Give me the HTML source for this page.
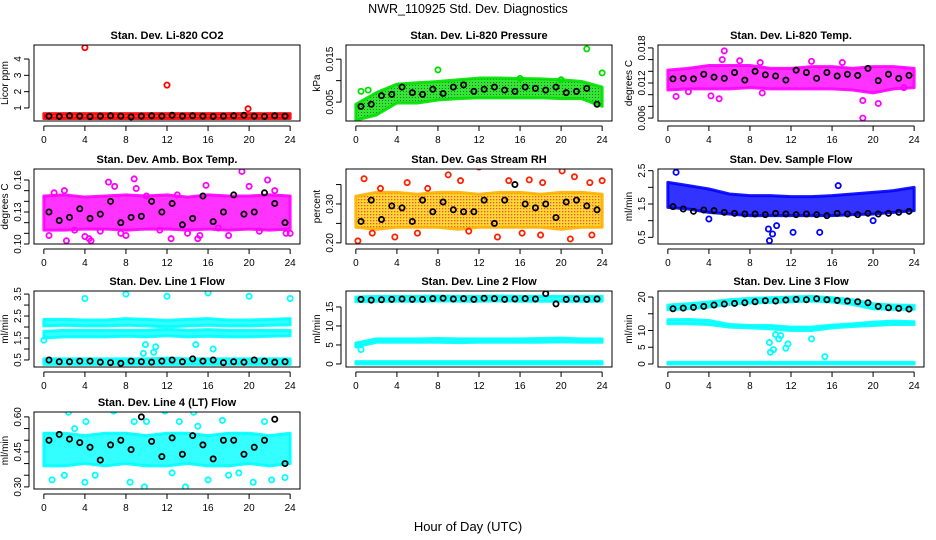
<!DOCTYPE html>
<html><head><meta charset="utf-8">
<style>
html,body{margin:0;padding:0;background:#fff;}
svg{display:block;font-family:"Liberation Sans",sans-serif;}
</style></head>
<body>
<svg id="chart" width="936" height="540" viewBox="0 0 936 540" xmlns="http://www.w3.org/2000/svg">
<defs>
<pattern id="rhPat" width="3" height="3" patternUnits="userSpaceOnUse">
<rect width="3" height="3" fill="#ffd000"/><rect x="1" y="1" width="1.3" height="1.3" fill="#ff2000"/>
</pattern>
<pattern id="grPat" width="3" height="3" patternUnits="userSpaceOnUse">
<rect width="3" height="3" fill="#00e000"/><rect x="1" y="1" width="1" height="1" fill="#004400"/>
</pattern>
</defs>
<text x="468" y="13" text-anchor="middle" font-size="12.5">NWR_110925  Std. Dev. Diagnostics</text>
<text x="468" y="531" text-anchor="middle" font-size="13">Hour of Day (UTC)</text>
</svg>
<script>
const hoursTicks = [0,4,8,12,16,20,24];
const bandHours = [0,2,4,6,8,10,12,14,16,18,20,22,24];
const blackHours = [0.5,1.5,2.5,3.5,4.5,5.5,6.5,7.5,8.5,9.5,10.5,11.5,12.5,13.5,14.5,15.5,16.5,17.5,18.5,19.5,20.5,21.5,22.5,23.5];

// CO2
const co2BandLow = [0.35,0.35,0.35,0.35,0.35,0.35,0.35,0.35,0.35,0.35,0.35,0.35,0.35];
const co2BandHigh = [0.65,0.65,0.65,0.65,0.65,0.65,0.65,0.65,0.65,0.65,0.65,0.65,0.65];
const co2OutX = [4,12,19.9];
const co2OutY = [4.7,2.4,0.95];
const co2Black = [0.5,0.48,0.52,0.5,0.47,0.5,0.52,0.5,0.45,0.5,0.52,0.5,0.55,0.5,0.52,0.5,0.48,0.5,0.52,0.55,0.5,0.48,0.52,0.5];
// Pressure
const presBandLow = [0.0008,0.002,0.0048,0.0048,0.0055,0.0058,0.006,0.006,0.006,0.006,0.0058,0.0058,0.004];
const presBandHigh = [0.0045,0.0072,0.0092,0.0095,0.0098,0.0102,0.0106,0.0106,0.0105,0.0104,0.0102,0.0098,0.0085];
const presOutX = [0.5,1.2,8,16,20,22.5,24];
const presOutY = [0.0075,0.0078,0.0125,0.0105,0.0102,0.0174,0.0118];
const presBlack = [0.004,0.0045,0.0065,0.0068,0.0085,0.0072,0.0068,0.008,0.007,0.0085,0.009,0.0075,0.008,0.0085,0.0078,0.0075,0.0085,0.0082,0.0078,0.0085,0.0072,0.0075,0.0082,0.0045];
// Li-820 Temp
const tempBandLow = [0.0108,0.011,0.011,0.011,0.0112,0.011,0.011,0.011,0.011,0.0108,0.0103,0.011,0.0112];
const tempBandHigh = [0.0142,0.0145,0.015,0.015,0.015,0.0145,0.0145,0.0148,0.0148,0.0145,0.0148,0.0148,0.0145];
const tempOutX = [0.8,5.5,5.3,4.2,5,7,9,9.2,19,19,20.5,23,14,2,17];
const tempOutY = [0.0097,0.0175,0.016,0.0098,0.0093,0.0158,0.0155,0.0103,0.006,0.009,0.0085,0.0112,0.0157,0.0105,0.0155];
const tempBlack = [0.0127,0.0128,0.0127,0.0135,0.013,0.0128,0.0138,0.0125,0.014,0.0134,0.0132,0.0125,0.0142,0.0138,0.0128,0.0138,0.0132,0.0135,0.0133,0.0145,0.0124,0.0135,0.0128,0.0133];
// Amb box temp
const ambBandLow = [0.113,0.113,0.114,0.114,0.113,0.114,0.114,0.113,0.114,0.113,0.114,0.113,0.114];
const ambBandHigh = [0.145,0.146,0.144,0.145,0.146,0.145,0.146,0.144,0.146,0.145,0.145,0.146,0.145];
const ambOutX = [0.5,2.2,4,4.6,4.4,6.3,6.9,8.8,9,11.3,12.4,15,15.2,15.8,19.3,20,21.8,23.6,24,1,3,7.5,13,17,18,21,10,2,14,22.5,5.5,8];
const ambOutY = [0.108,0.103,0.107,0.103,0.105,0.158,0.154,0.161,0.152,0.113,0.105,0.105,0.108,0.155,0.168,0.154,0.16,0.11,0.11,0.148,0.113,0.11,0.146,0.115,0.108,0.112,0.145,0.15,0.11,0.15,0.112,0.108];
const ambBlack = [0.13,0.122,0.125,0.133,0.124,0.128,0.14,0.12,0.125,0.126,0.14,0.13,0.138,0.118,0.124,0.145,0.121,0.13,0.146,0.128,0.13,0.148,0.138,0.12];
// RH
const rhBandLow = [0.24,0.235,0.24,0.24,0.24,0.235,0.24,0.24,0.24,0.24,0.235,0.24,0.24];
const rhBandHigh = [0.32,0.33,0.33,0.325,0.33,0.33,0.325,0.33,0.33,0.325,0.33,0.33,0.325];
const rhOutX = [0.2,0.8,1.6,3.8,9,10.2,12,14.9,13.8,16.2,16.9,18,18.2,20.1,20.9,21.3,22.8,23,24,5,7,11,6,2.4];
const rhOutY = [0.205,0.365,0.225,0.215,0.375,0.36,0.395,0.36,0.215,0.225,0.362,0.22,0.355,0.385,0.21,0.37,0.355,0.22,0.36,0.355,0.34,0.23,0.225,0.34];
const rhBlack = [0.255,0.31,0.26,0.295,0.29,0.255,0.31,0.28,0.305,0.285,0.28,0.28,0.31,0.25,0.31,0.35,0.3,0.29,0.3,0.265,0.305,0.31,0.295,0.285];
// Sample flow
const sfBandLow = [1.4,1.35,1.25,1.2,1.15,1.15,1.15,1.15,1.15,1.18,1.2,1.25,1.3];
const sfBandHigh = [2.15,2.05,1.95,1.8,1.75,1.75,1.72,1.72,1.75,1.8,1.85,1.9,2.0];
const sfOutX = [0.8,9.8,9.9,10.2,10.6,12.2,14.8,16.6,4,20];
const sfOutY = [2.45,0.75,0.4,0.6,0.85,0.65,0.65,2.05,1.05,1.0];
const sfBlack = [1.42,1.35,1.28,1.32,1.3,1.25,1.22,1.2,1.2,1.18,1.22,1.2,1.18,1.2,1.18,1.15,1.22,1.2,1.18,1.22,1.2,1.22,1.25,1.28];
// Line 1
const l1BandALow = [2.05,2.08,2.05,2.05,2.08,2.05,2.0,2.05,2.08,2.05,2.05,2.08,2.1];
const l1BandAHigh = [2.35,2.35,2.32,2.32,2.38,2.35,2.3,2.35,2.38,2.32,2.32,2.35,2.38];
const l1BandBLow = [1.5,1.55,1.55,1.55,1.58,1.55,1.6,1.55,1.58,1.55,1.55,1.58,1.6];
const l1BandBHigh = [1.8,1.85,1.85,1.85,1.85,1.85,1.9,1.85,1.88,1.85,1.85,1.85,1.85];
const l1BandCLow = [0.3,0.3,0.3,0.3,0.3,0.3,0.3,0.3,0.3,0.3,0.3,0.3,0.3];
const l1BandCHigh = [0.55,0.55,0.55,0.55,0.55,0.55,0.58,0.55,0.55,0.55,0.55,0.55,0.55];
const l1OutX = [4,8,12,16,20,24,9.7,9.9,10.7,10.9,16.5,14.8,0];
const l1OutY = [3.3,3.5,3.4,3.55,3.4,3.3,0.8,1.2,0.85,1.1,1.0,1.2,1.4];
const l1Black = [0.5,0.42,0.42,0.45,0.45,0.4,0.38,0.35,0.45,0.42,0.4,0.45,0.5,0.42,0.55,0.45,0.5,0.38,0.42,0.4,0.5,0.45,0.4,0.42];
// Line 2
const l2BandALow = [16.4,16.5,16.5,16.5,16.6,16.5,16.5,16.6,16.5,16.5,16.5,16.5,16.5];
const l2BandAHigh = [17.6,17.8,17.8,17.8,17.9,17.8,17.8,17.9,17.8,17.8,17.8,17.8,17.8];
const l2BandBLow = [4.5,5.7,5.7,5.7,5.7,5.6,5.7,5.7,5.7,5.7,5.8,5.7,5.7];
const l2BandBHigh = [5.5,6.6,6.6,6.6,6.7,6.6,6.6,6.6,6.6,6.7,6.8,6.6,6.6];
const l2BandCLow = [0,0,0,0,0,0,0,0,0,0,0,0,0];
const l2BandCHigh = [0.6,0.6,0.6,0.6,0.6,0.6,0.6,0.6,0.6,0.6,0.6,0.6,0.6];
const l2OutX = [0.2,0.5];
const l2OutY = [5,3.8];
const l2Black = [17,16.8,16.9,17,17.1,17,17,17.2,17.3,17.1,17.2,17,17.3,17.2,17,17.1,17.2,17.1,18.5,15.8,17,17.1,17,17.1];
// Line 3
const l3BandALow = [16.2,16.5,17,17.8,18.2,18.4,18.6,18.8,18.5,17.8,16.5,16.3,16.3];
const l3BandAHigh = [17.6,18,18.5,19.2,19.6,19.8,20,20.2,19.8,19.2,18,17.6,17.5];
const l3BandBLow = [12,12,11.8,11,10.8,10.5,10,10,10.8,11.2,11.5,11.8,11.8];
const l3BandBHigh = [13.2,13.3,13,11.8,11.5,11.5,11,11,11.6,12,12.5,12.8,12.6];
const l3BandCLow = [0,0,0,0,0,0,0,0,0,0,0,0,0];
const l3BandCHigh = [0.5,0.5,0.5,0.5,0.5,0.5,0.5,0.5,0.5,0.5,0.5,0.5,0.5];
const l3OutX = [9.9,10,10.3,10.5,10.8,11,11.5,11.7,14,15.3];
const l3OutY = [6.4,3.5,4.3,8.8,7.5,8.5,4.7,6,7.5,2.2];
const l3Black = [16.5,16.7,16.9,17.2,17.6,17.9,18.1,18.3,18.6,18.9,18.8,19.1,19.3,19.2,19.5,19.2,19,18.8,18.6,18.3,17.2,16.8,16.6,16.4];
// Line 4
const l4BandLow = [0.39,0.39,0.4,0.39,0.4,0.39,0.39,0.4,0.39,0.39,0.4,0.39,0.4];
const l4BandHigh = [0.53,0.53,0.52,0.53,0.53,0.52,0.53,0.53,0.52,0.53,0.53,0.52,0.53];
const l4OutX = [2.4,6.8,11.8,14.6,0.8,4,8.4,9.8,13.8,16,20.4,22.2,10,4.1,8.8,13.2,17.4,21.5,2,5,18,23.5,3,15,19,12.5];
const l4OutY = [0.62,0.625,0.625,0.62,0.33,0.32,0.32,0.3,0.3,0.33,0.32,0.33,0.58,0.58,0.58,0.58,0.585,0.58,0.35,0.35,0.35,0.34,0.55,0.56,0.36,0.36];
const l4Black = [0.5,0.525,0.505,0.49,0.47,0.415,0.48,0.5,0.46,0.6,0.495,0.43,0.51,0.44,0.52,0.48,0.42,0.5,0.5,0.44,0.47,0.5,0.59,0.4];

const panels = [
 {name:'co2',title:'Stan. Dev. Li-820 CO2',ylab:'Licor ppm',col:0,row:0,ymin:0.2,ymax:4.86,ticks:[1,2,3,4],labels:['1','2','3','4'],color:'#ff0000',
  bands:[[co2BandLow,co2BandHigh]],ox:co2OutX,oy:co2OutY,black:co2Black},
 {name:'pressure',title:'Stan. Dev. Li-820 Pressure',ylab:'kPa',col:1,row:0,ymin:0.0006,ymax:0.0183,ticks:[0.005,0.01,0.015],labels:['0.005','','0.015'],color:'#00e000',fill:'url(#grPat)',
  bands:[[presBandLow,presBandHigh]],ox:presOutX,oy:presOutY,black:presBlack},
 {name:'li820-temp',title:'Stan. Dev. Li-820 Temp.',ylab:'degrees C',col:2,row:0,ymin:0.0055,ymax:0.0185,ticks:[0.006,0.008,0.01,0.012,0.014,0.016,0.018],labels:['0.006','','','0.012','','','0.018'],color:'#ff00ff',
  bands:[[tempBandLow,tempBandHigh]],ox:tempOutX,oy:tempOutY,black:tempBlack},
 {name:'amb-box-temp',title:'Stan. Dev. Amb. Box Temp.',ylab:'degrees C',col:0,row:1,ymin:0.1,ymax:0.1703,ticks:[0.1,0.11,0.12,0.13,0.14,0.15,0.16],labels:['0.10','','','0.13','','','0.16'],color:'#ff00ff',
  bands:[[ambBandLow,ambBandHigh]],ox:ambOutX,oy:ambOutY,black:ambBlack},
 {name:'gas-stream-rh',title:'Stan. Dev. Gas Stream RH',ylab:'percent',col:1,row:1,ymin:0.197,ymax:0.39,ticks:[0.2,0.25,0.3,0.35],labels:['0.20','','0.30',''],color:'#ffb000',fill:'url(#rhPat)',
  bands:[[rhBandLow,rhBandHigh]],ox:rhOutX,oy:rhOutY,black:rhBlack},
 {name:'sample-flow',title:'Stan. Dev. Sample Flow',ylab:'ml/min',col:2,row:1,ymin:0.3,ymax:2.55,ticks:[0.5,1,1.5,2,2.5],labels:['0.5','','1.5','','2.5'],color:'#0000ff',
  bands:[[sfBandLow,sfBandHigh]],ox:sfOutX,oy:sfOutY,black:sfBlack},
 {name:'line1-flow',title:'Stan. Dev. Line 1 Flow',ylab:'ml/min',col:0,row:2,ymin:0.18,ymax:3.64,ticks:[0.5,1,1.5,2,2.5,3,3.5],labels:['0.5','','1.5','','2.5','','3.5'],color:'#00ffff',
  bands:[[l1BandALow,l1BandAHigh],[l1BandBLow,l1BandBHigh],[l1BandCLow,l1BandCHigh]],ox:l1OutX,oy:l1OutY,black:l1Black},
 {name:'line2-flow',title:'Stan. Dev. Line 2 Flow',ylab:'ml/min',col:1,row:2,ymin:-0.8,ymax:19.2,ticks:[0,5,10,15],labels:['0','5','10','15'],color:'#00ffff',
  bands:[[l2BandALow,l2BandAHigh],[l2BandBLow,l2BandBHigh],[l2BandCLow,l2BandCHigh]],ox:l2OutX,oy:l2OutY,black:l2Black},
 {name:'line3-flow',title:'Stan. Dev. Line 3 Flow',ylab:'ml/min',col:2,row:2,ymin:-0.9,ymax:21.8,ticks:[0,5,10,15,20],labels:['0','5','10','','20'],color:'#00ffff',
  bands:[[l3BandALow,l3BandAHigh],[l3BandBLow,l3BandBHigh],[l3BandCLow,l3BandCHigh]],ox:l3OutX,oy:l3OutY,black:l3Black},
 {name:'line4-lt-flow',title:'Stan. Dev. Line 4 (LT) Flow',ylab:'ml/min',col:0,row:3,ymin:0.291,ymax:0.621,ticks:[0.3,0.35,0.4,0.45,0.5,0.55,0.6],labels:['0.30','','','0.45','','','0.60'],color:'#00ffff',
  bands:[[l4BandLow,l4BandHigh]],ox:l4OutX,oy:l4OutY,black:l4Black}
];
const colX = [[34,300],[346,612],[658,924]];
const rowY = [[45,121],[169,244],[291,367],[412,489]];
const NS = 'http://www.w3.org/2000/svg';
const svg = document.getElementById('chart');
function mk(tag, attrs, parent){const e=document.createElementNS(NS,tag);for(const k in attrs)e.setAttribute(k,attrs[k]);(parent||svg).appendChild(e);return e;}

panels.forEach(p=>{
  const [x0,x1]=colX[p.col],[y0,y1]=rowY[p.row];
  const xs=h=>x0+(h+0.96)/25.92*(x1-x0);
  const ys=v=>y1-(v-p.ymin)/(p.ymax-p.ymin)*(y1-y0);
  const g=mk('g',{});
  
  
  const clipId='clip-'+p.name;
  const cp=mk('clipPath',{id:clipId},g);
  mk('rect',{x:x0,y:y0,width:x1-x0,height:y1-y0},cp);
  const plot=mk('g',{'clip-path':'url(#'+clipId+')'},g);
  p.bands.forEach((b,bi)=>{
    let pts=bandHours.map((h,i)=>xs(h)+','+ys(b[1][i]));
    pts=pts.concat(bandHours.slice().reverse().map((h,j)=>{const i=bandHours.length-1-j;return xs(h)+','+ys(b[0][i]);}));
    const poly=mk('polygon',{points:pts.join(' '),fill:p.fill||p.color,'fill-opacity':0.8,stroke:p.color,'stroke-opacity':0.9,'stroke-width':3,'stroke-linejoin':'round'},plot);
    
    
  });
  p.ox.forEach((h,i)=>{
    const c=mk('circle',{cx:xs(h),cy:ys(p.oy[i]),r:2.6,fill:'none',stroke:p.color==='#ffb000'?'#ff2000':p.color,'stroke-width':1.8},plot);
    
    
  });
  p.black.forEach((v,i)=>{
    const c=mk('circle',{cx:xs(blackHours[i]),cy:ys(v),r:2.6,fill:'none',stroke:'#000','stroke-width':1.8},plot);
    
    
  });
  const box=mk('rect',{x:x0,y:y0,width:x1-x0,height:y1-y0,fill:'none',stroke:'#000','stroke-width':1},g);
  
  
  const t=mk('text',{x:(x0+x1)/2,y:y0-6,'text-anchor':'middle','font-size':11,'font-weight':'bold'},g);
  t.textContent=p.title;
  
  
  mk('line',{x1:xs(0),x2:xs(24),y1:y1+5,y2:y1+5,stroke:'#000'},g);
  hoursTicks.forEach(h=>{
    mk('line',{x1:xs(h),x2:xs(h),y1:y1+5,y2:y1+10,stroke:'#000'},g);
    const tl=mk('text',{x:xs(h),y:y1+22,'text-anchor':'middle','font-size':10},g);
    tl.textContent=h;
    
    
  });
  mk('line',{x1:x0-5,x2:x0-5,y1:ys(p.ticks[0]),y2:ys(p.ticks[p.ticks.length-1]),stroke:'#000'},g);
  p.ticks.forEach((v,i)=>{
    mk('line',{x1:x0-10,x2:x0-5,y1:ys(v),y2:ys(v),stroke:'#000'},g);
    if(p.labels[i]){
      const tl=mk('text',{x:x0-13,y:ys(v),'text-anchor':'middle','font-size':10,transform:'rotate(-90 '+(x0-13)+' '+ys(v)+')'},g);
      tl.textContent=p.labels[i];
      
      
    }
  });
  const yl=mk('text',{x:x0-26,y:(y0+y1)/2,'text-anchor':'middle','font-size':10,transform:'rotate(-90 '+(x0-26)+' '+((y0+y1)/2)+')'},g);
  yl.textContent=p.ylab;
  
  
});
</script>
</body></html>
